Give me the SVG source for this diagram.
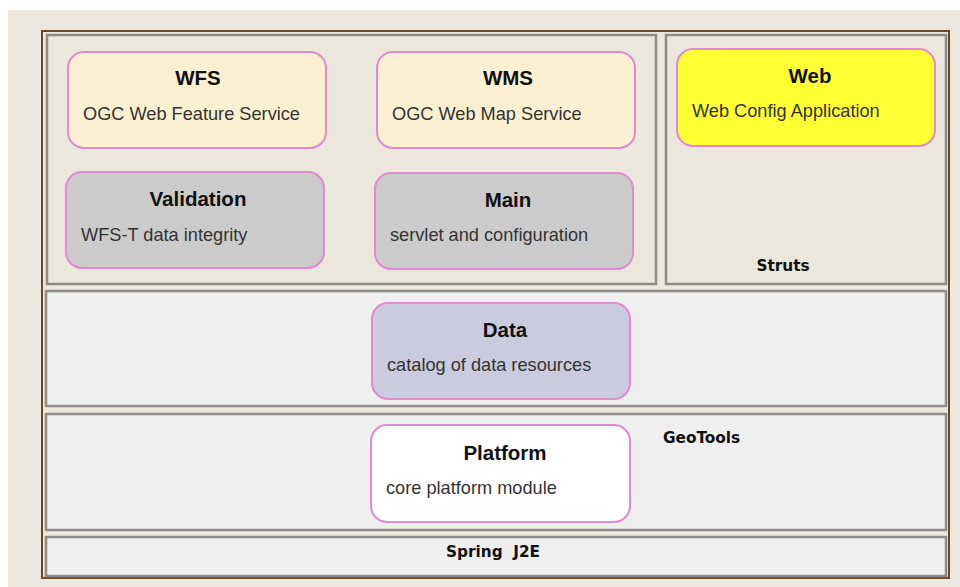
<svg xmlns="http://www.w3.org/2000/svg" width="960" height="587" viewBox="0 0 960 587">
<style>
.panel{stroke:#8c8c8c;stroke-width:2.5}
.beige{fill:#ece7dc}
.grey{fill:#efefef}
.node{stroke:#e08ad0;stroke-width:2}
.t{font-family:"Liberation Sans",Arial,sans-serif;font-weight:bold;font-size:20.5px;fill:#111;text-anchor:middle}
.s{font-family:"Liberation Sans",Arial,sans-serif;font-size:18.2px;fill:#333}
.l{font-family:"DejaVu Sans",sans-serif;font-weight:bold;font-size:15.3px;fill:#111}
</style>
<rect x="0" y="0" width="960" height="587" fill="#ffffff"/>
<rect x="8" y="10" width="952" height="577" fill="#ece8dd"/>
<g id="frame">
<rect x="42" y="31" width="907" height="547" fill="#ece8dd" stroke="#6b4a22" stroke-width="2"/>
</g>
<g id="layers">
<rect class="panel beige" x="47" y="35" width="609" height="249"/>
<rect class="panel beige" x="666" y="35" width="280" height="249"/>
<rect class="panel grey" x="46" y="291" width="900" height="115"/>
<rect class="panel grey" x="46" y="414" width="900" height="116"/>
<rect class="panel grey" x="46" y="537" width="900" height="39"/>
<text class="l" x="783" y="271" text-anchor="middle">Struts</text>
<text class="l" x="663" y="443">GeoTools</text>
<text class="l" x="493" y="557" text-anchor="middle" xml:space="preserve">Spring  J2E</text>
</g>
<g id="wfs">
<rect class="node" x="68" y="52" width="258" height="96" rx="16" fill="#fdefd2"/>
<text class="t" x="198" y="85">WFS</text>
<text class="s" x="83" y="120">OGC Web Feature Service</text>
</g>
<g id="wms">
<rect class="node" x="377" y="52" width="258" height="96" rx="16" fill="#fdefd2"/>
<text class="t" x="508" y="85">WMS</text>
<text class="s" x="392" y="120">OGC Web Map Service</text>
</g>
<g id="validation">
<rect class="node" x="66" y="172" width="258" height="96" rx="16" fill="#cbcbcb"/>
<text class="t" x="198" y="206">Validation</text>
<text class="s" x="81" y="241">WFS-T data integrity</text>
</g>
<g id="main">
<rect class="node" x="375" y="173" width="258" height="96" rx="16" fill="#cbcbcb"/>
<text class="t" x="508" y="207">Main</text>
<text class="s" x="390" y="241">servlet and configuration</text>
</g>
<g id="web">
<rect class="node" x="677" y="49" width="258" height="97" rx="16" fill="#ffff33"/>
<text class="t" x="810" y="83">Web</text>
<text class="s" x="692" y="117">Web Config Application</text>
</g>
<g id="data">
<rect class="node" x="372" y="303" width="258" height="96" rx="16" fill="#cbcbdf"/>
<text class="t" x="505" y="337">Data</text>
<text class="s" x="387" y="371">catalog of data resources</text>
</g>
<g id="platform">
<rect class="node" x="371" y="425" width="259" height="97" rx="16" fill="#ffffff"/>
<text class="t" x="505" y="460">Platform</text>
<text class="s" x="386" y="494">core platform module</text>
</g>
<g id="connectors"></g>
</svg>
